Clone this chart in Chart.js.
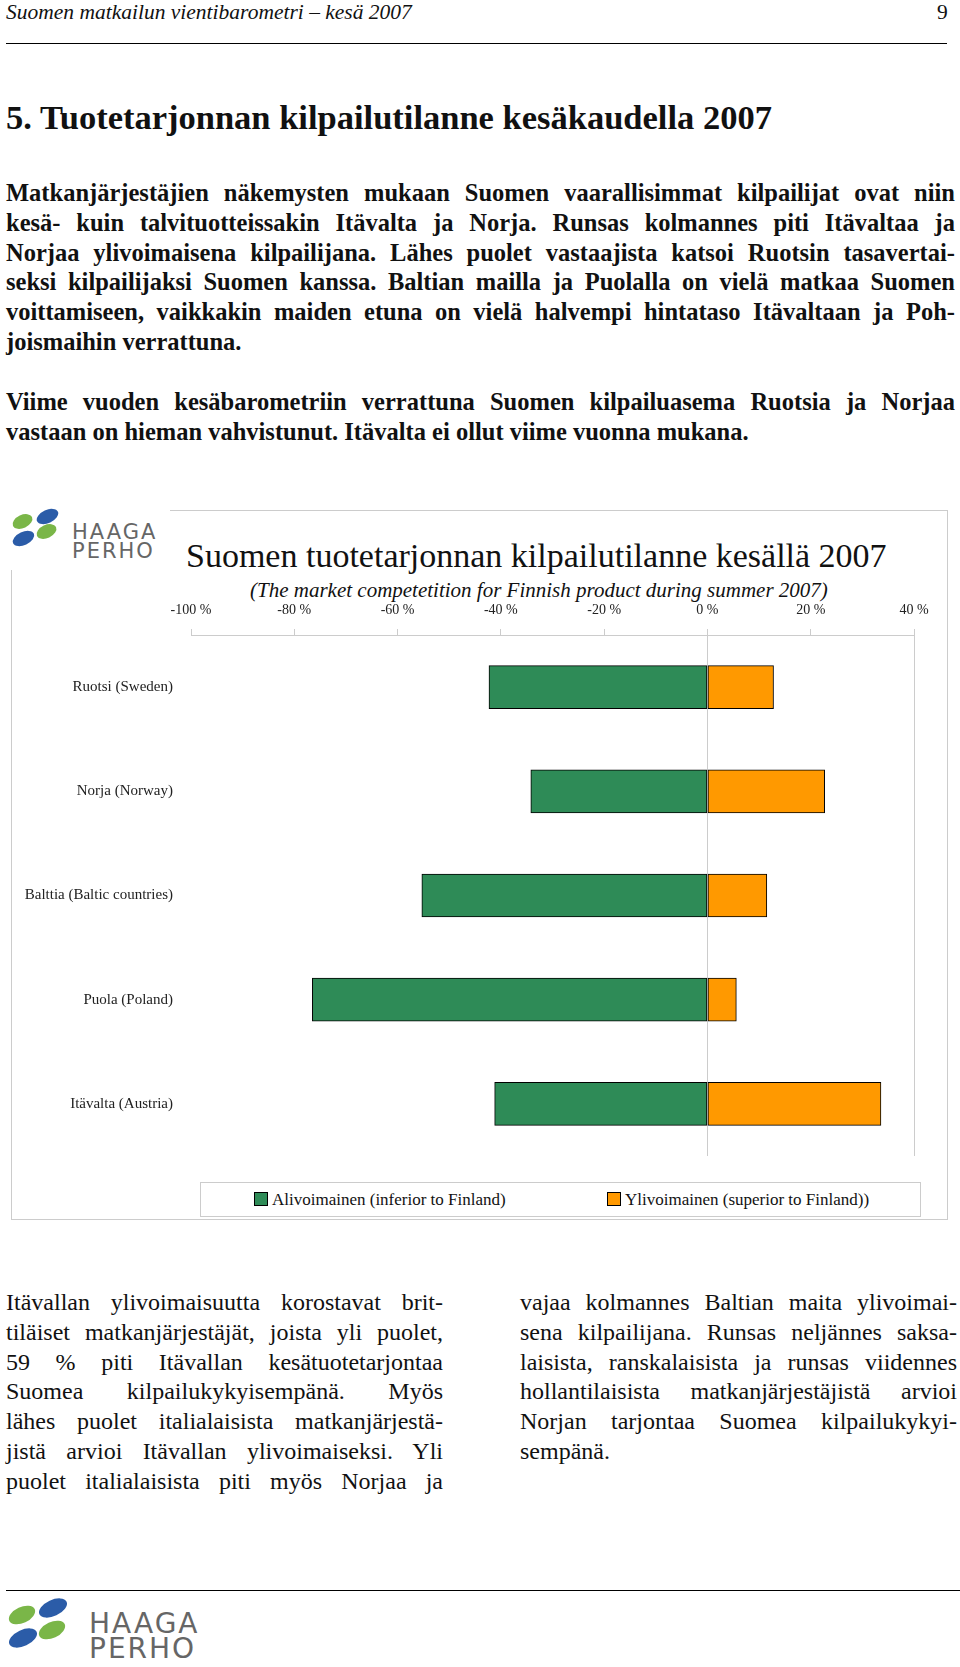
<!DOCTYPE html>
<html><head><meta charset="utf-8">
<script src="https://cdn.jsdelivr.net/npm/chart.js@4/dist/chart.umd.min.js"></script>
<style>
body{margin:0;width:960px;height:1667px;position:relative;font-family:"Liberation Serif",serif;color:#111;background:#fff}
.abs{position:absolute}
.hdr{left:6px;top:0px;font-size:21.5px;font-style:italic}
.pg{left:937px;top:0px;font-size:21.5px}
.rule{left:6px;width:941px;border-top:1px solid #000}
h1{position:absolute;left:6px;top:98px;margin:0;font-size:34.5px;font-weight:bold}
.p{left:6px;width:949px;font-size:24.5px;line-height:29.8px;font-weight:bold}
.col{width:437px;font-size:24px;line-height:29.8px}
.p div,.col div{text-align:justify;text-align-last:justify;white-space:nowrap}
.p div.l,.col div.l{text-align-last:left}
.frame{left:11px;top:510px;width:937px;height:710px;border:1px solid #ccc;box-sizing:border-box}
.ttl{left:186px;top:537px;font-size:34px}
.sub{left:250px;top:578px;font-size:21px;font-style:italic}
.leg{left:200px;top:1182px;width:721px;height:35px;border:1px solid #ccc;box-sizing:border-box;font-size:17px}
.sw{display:inline-block;width:12px;height:12px;border:1px solid #000;vertical-align:-1px;margin-right:4px}
.logo{background:#fff}
</style></head><body>
<div class="abs hdr">Suomen matkailun vientibarometri – kesä 2007</div>
<div class="abs pg">9</div>
<div class="abs rule" style="top:43px"></div>
<h1>5. Tuotetarjonnan kilpailutilanne kesäkaudella 2007</h1>
<div class="abs p" style="top:178px">
<div>Matkanjärjestäjien näkemysten mukaan Suomen vaarallisimmat kilpailijat ovat niin</div>
<div>kesä- kuin talvituotteissakin Itävalta ja Norja. Runsas kolmannes piti Itävaltaa ja</div>
<div>Norjaa ylivoimaisena kilpailijana. Lähes puolet vastaajista katsoi Ruotsin tasavertai-</div>
<div>seksi kilpailijaksi Suomen kanssa. Baltian mailla ja Puolalla on vielä matkaa Suomen</div>
<div>voittamiseen, vaikkakin maiden etuna on vielä halvempi hintataso Itävaltaan ja Poh-</div>
<div class="l">joismaihin verrattuna.</div>
</div>
<div class="abs p" style="top:387px">
<div>Viime vuoden kesäbarometriin verrattuna Suomen kilpailuasema Ruotsia ja Norjaa</div>
<div class="l">vastaan on hieman vahvistunut. Itävalta ei ollut viime vuonna mukana.</div>
</div>

<div class="abs frame"></div>
<div class="abs logo" style="left:8px;top:506px;width:162px;height:64px">
 <div class="abs" style="left:4px;top:9px;width:21px;height:13px;border-radius:50%;background:#7ab648;transform:rotate(-25deg)"></div>
 <div class="abs" style="left:28px;top:4px;width:23px;height:13px;border-radius:50%;background:#2b5ca8;transform:rotate(-25deg)"></div>
 <div class="abs" style="left:4px;top:26px;width:23px;height:13px;border-radius:50%;background:#2b5ca8;transform:rotate(-25deg)"></div>
 <div class="abs" style="left:28px;top:19px;width:21px;height:13px;border-radius:50%;background:#7ab648;transform:rotate(-25deg)"></div>
 <div class="abs" style="left:64px;top:17px;font:21px 'DejaVu Sans',sans-serif;color:#666;letter-spacing:2px;line-height:19px">HAAGA<br>PERHO</div>
</div>
<div class="abs ttl">Suomen tuotetarjonnan kilpailutilanne kesällä 2007</div>
<div class="abs sub">(The market competetition for Finnish product during summer 2007)</div>
<div class="abs" style="left:11px;top:595px;width:937px;height:580px"><canvas id="c"></canvas></div>
<div class="abs leg">
 <span class="abs" style="left:53px;top:7px"><span class="sw" style="background:#2e8b57"></span>Alivoimainen (inferior to Finland)</span>
 <span class="abs" style="left:406px;top:7px"><span class="sw" style="background:#ff9900"></span>Ylivoimainen (superior to Finland))</span>
</div>

<div class="abs col" style="left:6px;top:1288px">
<div>Itävallan ylivoimaisuutta korostavat brit-</div>
<div>tiläiset matkanjärjestäjät, joista yli puolet,</div>
<div>59 % piti Itävallan kesätuotetarjontaa</div>
<div>Suomea kilpailukykyisempänä. Myös</div>
<div>lähes puolet italialaisista matkanjärjestä-</div>
<div>jistä arvioi Itävallan ylivoimaiseksi. Yli</div>
<div>puolet italialaisista piti myös Norjaa ja</div>
</div>
<div class="abs col" style="left:520px;top:1288px">
<div>vajaa kolmannes Baltian maita ylivoimai-</div>
<div>sena kilpailijana. Runsas neljännes saksa-</div>
<div>laisista, ranskalaisista ja runsas viidennes</div>
<div>hollantilaisista matkanjärjestäjistä arvioi</div>
<div>Norjan tarjontaa Suomea kilpailukykyi-</div>
<div class="l">sempänä.</div>
</div>
<div class="abs rule" style="top:1590px;width:954px"></div>
<div class="abs" style="left:4px;top:1594px;width:224px;height:70px">
 <div class="abs" style="left:4px;top:13px;width:28px;height:16px;border-radius:50%;background:#7ab648;transform:rotate(-25deg)"></div>
 <div class="abs" style="left:34px;top:6px;width:30px;height:16px;border-radius:50%;background:#2b5ca8;transform:rotate(-25deg)"></div>
 <div class="abs" style="left:4px;top:36px;width:30px;height:16px;border-radius:50%;background:#2b5ca8;transform:rotate(-25deg)"></div>
 <div class="abs" style="left:34px;top:28px;width:28px;height:16px;border-radius:50%;background:#7ab648;transform:rotate(-25deg)"></div>
 <div class="abs" style="left:85px;top:17px;font:28px 'DejaVu Sans',sans-serif;color:#666;letter-spacing:2px;line-height:25px">HAAGA<br>PERHO</div>
</div>
<script>
const categories = ['Ruotsi (Sweden)', 'Norja (Norway)', 'Balttia (Baltic countries)', 'Puola (Poland)', 'Itävalta (Austria)'];
const inferior = [-42.3, -34.2, -55.3, -76.5, -41.2];
const superior = [12.8, 22.7, 11.5, 5.6, 33.6];
const tickValues = [-100, -80, -60, -40, -20, 0, 20, 40];

new Chart(document.getElementById('c'), {
  type: 'bar',
  data: {
    labels: categories,
    datasets: [
      { label: 'Alivoimainen (inferior to Finland)', data: inferior, backgroundColor: '#2e8b57', borderColor: '#000', borderWidth: 1, barThickness: 43, borderSkipped: false },
      { label: 'Ylivoimainen (superior to Finland))', data: superior, backgroundColor: '#ff9900', borderColor: '#000', borderWidth: 1, barThickness: 43, borderSkipped: false },
    ],
  },
  options: {
    indexAxis: 'y',
    responsive: true,
    maintainAspectRatio: false,
    animation: false,
    layout: { padding: { right: 34, bottom: 4 } },
    plugins: { legend: { display: false }, tooltip: { enabled: false } },
    scales: {
      x: {
        position: 'top', stacked: true, min: -100, max: 40,
        afterBuildTicks: ax => { ax.ticks = tickValues.map(v => ({ value: v })); },
        afterFit: ax => { ax.height = 40; },
        ticks: { callback: v => v + ' %', color: '#222', font: { family: 'Liberation Serif', size: 14 }, padding: 10 },
        grid: { color: c => c.tick && (c.tick.value === 40 || c.tick.value === 0) ? '#ccc' : 'rgba(0,0,0,0)', tickLength: 6, tickColor: '#ccc', drawTicks: true },
        border: { display: true, color: '#ccc' },
      },
      y: {
        stacked: true,
        afterFit: ax => { ax.width = 180; },
        ticks: { color: '#222', font: { family: 'Liberation Serif', size: 15 }, padding: 10 },
        grid: { display: false },
        border: { display: false },
      },
    },
  },
});
</script>
</body></html>
